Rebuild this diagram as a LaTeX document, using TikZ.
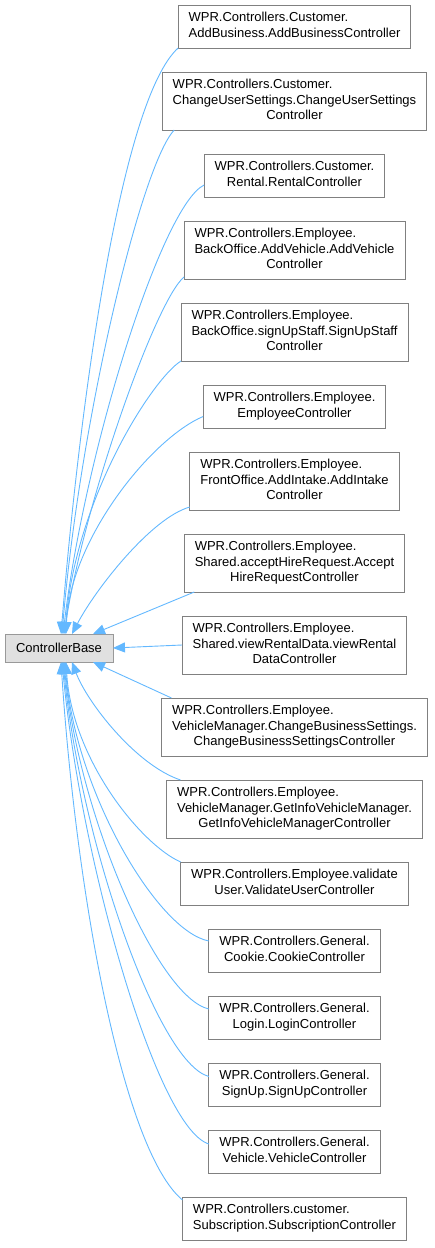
\documentclass[tikz,border=0pt]{standalone}
\usepackage{fontspec}
\setmainfont{Liberation Sans}
\usepackage{tikz}
\usetikzlibrary{positioning, arrows.meta}
\definecolor{edgeblue}{HTML}{63B8FF}
\definecolor{boxgray}{HTML}{808080}
\definecolor{basegray}{HTML}{999999}
\definecolor{basefill}{HTML}{E0E0E0}
\tikzset{
x=1pt, y=-1pt, % pixel units, y downwards
node distance=24pt, % gap between two class boxes
cls/.style={draw=boxgray, line width=0.9pt, fill=white, inner xsep=10.5pt, inner ysep=2pt, outer sep=0pt, minimum height=43pt}, % a derived class
tall/.style={cls, minimum height=58pt}, % a box with three lines
basecls/.style={draw=basegray, line width=0.9pt, fill=basefill, inner xsep=10.5pt, outer sep=0pt, minimum width=108pt, minimum height=28pt}, % the base class
inh/.style={draw=edgeblue, line width=0.9pt, -{Triangle[length=12pt, width=10pt]}}, % inheritance edge
}
% left lines, then a centred last line
\newcommand{\clsname}[2]{\begin{tabular}{@{}l@{}}#1\\\multicolumn{1}{@{}c@{}}{#2}\end{tabular}}

\begin{document}
\begin{tikzpicture}[font=\fontsize{13}{15.7}\selectfont]
    \useasboundingbox (0,0) rectangle (434,1248);
    \node[basecls] (base) at (59,648) {ControllerBase};
    \node[cls] (c1) at (294.5,26.5) {\clsname{WPR.Controllers.Customer.}{AddBusiness.AddBusinessController}};
    \node[tall, below=of c1] (c2) {\clsname{WPR.Controllers.Customer.\\ChangeUserSettings.ChangeUserSettings}{Controller}};
    \node[cls, below=of c2] (c3) {\clsname{WPR.Controllers.Customer.}{Rental.RentalController}};
    \node[tall, below=of c3] (c4) {\clsname{WPR.Controllers.Employee.\\BackOffice.AddVehicle.AddVehicle}{Controller}};
    \node[tall, below=of c4] (c5) {\clsname{WPR.Controllers.Employee.\\BackOffice.signUpStaff.SignUpStaff}{Controller}};
    \node[cls, below=of c5] (c6) {\clsname{WPR.Controllers.Employee.}{EmployeeController}};
    \node[tall, below=of c6] (c7) {\clsname{WPR.Controllers.Employee.\\FrontOffice.AddIntake.AddIntake}{Controller}};
    \node[tall, below=of c7] (c8) {\clsname{WPR.Controllers.Employee.\\Shared.acceptHireRequest.Accept}{HireRequestController}};
    \node[tall, below=of c8] (c9) {\clsname{WPR.Controllers.Employee.\\Shared.viewRentalData.viewRental}{DataController}};
    \node[tall, below=of c9] (c10) {\clsname{WPR.Controllers.Employee.\\VehicleManager.ChangeBusinessSettings.}{ChangeBusinessSettingsController}};
    \node[tall, below=of c10] (c11) {\clsname{WPR.Controllers.Employee.\\VehicleManager.GetInfoVehicleManager.}{GetInfoVehicleManagerController}};
    \node[cls, below=of c11] (c12) {\clsname{WPR.Controllers.Employee.validate}{User.ValidateUserController}};
    \node[cls, below=of c12] (c13) {\clsname{WPR.Controllers.General.}{Cookie.CookieController}};
    \node[cls, below=of c13] (c14) {\clsname{WPR.Controllers.General.}{Login.LoginController}};
    \node[cls, below=of c14] (c15) {\clsname{WPR.Controllers.General.}{SignUp.SignUpController}};
    \node[cls, below=of c15] (c16) {\clsname{WPR.Controllers.General.}{Vehicle.VehicleController}};
    \node[cls, below=of c16] (c17) {\clsname{WPR.Controllers.customer.}{Subscription.SubscriptionController}};
    % edges above the base class
    \draw[inh] (c1.south west) .. controls +(-57,52) and +(19,-234) .. ([xshift=2pt]base.north);
    \draw[inh] ([xshift=12pt]c2.south west) .. controls +(-33,35) and +(18,-214) .. ([xshift=3pt]base.north);
    \draw[inh] ([yshift=-9.5pt]c3.west) .. controls +(-42,20) and +(22,-184) .. ([xshift=4pt]base.north);
    \draw[inh] ([yshift=2pt]c4.south west) .. controls +(-28,23) and +(21,-134) .. ([xshift=5pt]base.north);
    \draw[inh] (c5.south west) .. controls +(-29,18) and +(10,-134) .. ([xshift=6pt]base.north);
    \draw[inh] ([yshift=-10pt]c6.west) .. controls +(-52,22) and +(4,-94) .. ([xshift=7pt]base.north);
    \draw[inh] ([yshift=3pt]c7.south west) .. controls +(-39,11) and +(23,-44) .. ([xshift=13pt]base.north);
    \draw[inh] ([xshift=10pt]c8.south west) -- ([xshift=34pt]base.north);
    % edges beside and below the base class
    \draw[inh] (c9.west) -- (base.east);
    \draw[inh] ([xshift=10pt]c10.north west) -- ([xshift=34pt]base.south);
    \draw[inh] ([xshift=14pt]c11.north west) .. controls +(-45,-15) and +(15,40) .. ([xshift=13pt]base.south);
    \draw[inh] (c12.north west) .. controls +(-39,-17) and +(6,98) .. ([xshift=7pt]base.south);
    \draw[inh] ([yshift=9.5pt]c13.west) .. controls +(-52,-10) and +(10,128) .. ([xshift=6pt]base.south);
    \draw[inh] ([yshift=8.5pt]c14.west) .. controls +(-52,-12) and +(14,150) .. ([xshift=5pt]base.south);
    \draw[inh] ([yshift=8pt]c15.west) .. controls +(-52,-14) and +(17,175) .. ([xshift=4pt]base.south);
    \draw[inh] ([yshift=7.5pt]c16.west) .. controls +(-52,-16) and +(19,200) .. ([xshift=3pt]base.south);
    \draw[inh] ([yshift=-3pt]c17.north west) .. controls +(-60,-50) and +(15,230) .. ([xshift=2pt]base.south);
\end{tikzpicture}
\end{document}
